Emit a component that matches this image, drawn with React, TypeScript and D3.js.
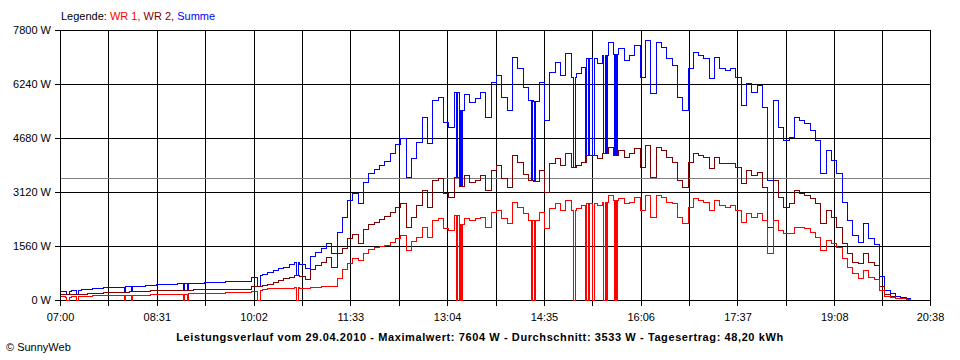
import { useEffect, useRef } from "react"
import * as d3 from "d3"

// 5-minute readings starting 07:00 (W)
const startTime = "07:00"
const stepMinutes = 5

const wr1 = [
  110, 100, 105, 120, 125, 130, 135, 140, 144, 145, 148, 150,
  150, 152, 155, 155, 158, 160, 164, 168, 172, 176, 180, 184,
  188, 192, 196, 200, 205, 210, 215, 221, 225, 230, 235, 240,
  260, 300, 318, 335, 337, 337, 337, 360, 366, 350, 337, 366,
  385, 395, 395, 400, 626, 900, 1078, 1200, 1155, 1350, 1480, 1530,
  1560, 1600, 1685, 1800, 1878, 1444, 1700, 1830, 2118, 1830, 2311, 2359,
  2070, 2022, 2456, 2200, 2359, 2311, 2359, 2400, 2118, 2552, 2600, 2359,
  2215, 2840, 2696, 2500, 2311, 2300, 2552, 2070, 2648, 2792, 2600, 2889,
  2600, 2650, 2744, 2792, 2792, 2744, 2840, 3033, 2900, 2937, 2792, 2840,
  2985, 2600, 3033, 2408, 3033, 2985, 2840, 2792, 2407, 2215, 2700, 2937,
  2889, 2840, 2600, 2889, 2744, 2696, 2744, 2600, 2263, 2504, 2407, 2504,
  2311, 1348, 2311, 2022, 1926, 1926, 2118, 2118, 2070, 1974, 1830, 1444,
  1733, 1637, 1541, 1204, 963, 770, 626, 867, 674, 600, 280, 120,
  80, 60, 45, 35,
]

const wr2 = [
  160, 160, 170, 175, 185, 195, 200, 210, 220, 225, 230, 240,
  245, 250, 255, 262, 270, 278, 288, 290, 292, 295, 298, 300,
  302, 305, 306, 308, 310, 312, 315, 318, 320, 322, 325, 310,
  400, 410, 433, 470, 520, 580, 626, 670, 720, 700, 600, 896,
  1000, 1100, 1250, 960, 1348, 1500, 1800, 1900, 1640, 2050, 2200, 2250,
  2330, 2420, 2552, 2700, 2792, 2118, 2400, 2744, 3178, 2696, 3467, 3515,
  3081, 2985, 3563, 3300, 3600, 3418, 3467, 3600, 3178, 3756, 3900, 3515,
  3274, 4189, 3996, 3650, 3467, 3450, 3756, 3130, 3948, 4093, 3900, 4237,
  3852, 3900, 3996, 4189, 4189, 4093, 4237, 4430, 4200, 4333, 4141, 4250,
  4381, 3852, 4478, 3563, 4430, 4333, 4141, 3996, 3467, 3274, 4000, 4237,
  4200, 4141, 3800, 4141, 3948, 3950, 3950, 3852, 3370, 3756, 3611, 3707,
  3274, 2118, 3467, 2985, 2696, 2792, 3178, 3081, 3033, 2937, 2792, 2215,
  2600, 2407, 2118, 1637, 1348, 1107, 1059, 1348, 1107, 1011, 400, 170,
  115, 70, 50, 20,
]

// minutes where WR 1 dropped to zero
const wr1Dropouts = [
  "07:06", "07:07", "07:15", "07:16", "08:00", "08:07", "08:56", "08:59",
  "10:05", "10:06", "10:07", "10:42", "10:43",
  "13:12", "13:15", "13:17", "14:23", "14:26", "15:02", "15:03",
  "15:14", "15:16", "15:20", "15:21", "15:31", "15:33", "15:41", "15:43",
]

const xTickLabels = ["07:00", "08:31", "10:02", "11:33", "13:04", "14:35", "16:06", "17:37", "19:08", "20:38"]
const yTicks = [0, 1560, 3120, 4680, 6240, 7800]

const dateLabel = "29.04.2010"
const maxValue = 7604
const average = 3533
const dayYield = "48,20"

const FONT = "'Liberation Sans', Arial, sans-serif"

const toMin = (s: string) => {
  const [h, m] = s.split(":").map(Number)
  return h * 60 + m
}

export default function App() {
  const svgRef = useRef<SVGSVGElement>(null)

  useEffect(() => {
    if (!svgRef.current) return
    const W = 960
    const H = 360
    const margin = { top: 30, right: 30, bottom: 60, left: 60 }

    const svg = d3.select(svgRef.current)
    svg.selectAll("*").remove()
    svg.attr("width", W).attr("height", H)

    const labelMins = xTickLabels.map(toMin)
    const x = d3
      .scaleLinear()
      .domain([labelMins[0], labelMins[labelMins.length - 1]])
      .range([margin.left, W - margin.right])
    const y = d3
      .scaleLinear()
      .domain([0, yTicks[yTicks.length - 1]])
      .range([H - margin.bottom, margin.top])

    const px = (v: number) => Math.round(v) + 0.5

    // grid times: labelled ticks plus the one between each pair
    const gridMins: number[] = []
    labelMins.forEach((m, i) => {
      gridMins.push(m)
      if (i < labelMins.length - 1) gridMins.push((m + labelMins[i + 1]) / 2)
    })

    // per-minute series
    const t0 = toMin(startTime)
    const drops = new Set(wr1Dropouts.map(toMin))
    const points = d3.range(wr1.length * stepMinutes).map((k) => {
      const i = Math.floor(k / stepMinutes)
      const t = t0 + k
      const a = drops.has(t) ? 0 : wr1[i]
      const b = wr2[i]
      return { t, a, b, s: a + b }
    })

    const grid = svg.append("g").attr("shape-rendering", "crispEdges")

    // vertical grid + ticks
    grid
      .selectAll("line.v")
      .data(gridMins)
      .join("line")
      .attr("class", "v")
      .attr("x1", (d) => px(x(d)))
      .attr("x2", (d) => px(x(d)))
      .attr("y1", margin.top)
      .attr("y2", H - margin.bottom + 6)
      .attr("stroke", "#000")

    // horizontal grid + ticks
    grid
      .selectAll("line.h")
      .data(yTicks)
      .join("line")
      .attr("class", "h")
      .attr("x1", margin.left - 5)
      .attr("x2", W - margin.right + 1)
      .attr("y1", (d) => px(y(d)))
      .attr("y2", (d) => px(y(d)))
      .attr("stroke", "#000")

    // average line
    grid
      .append("line")
      .attr("x1", margin.left + 1)
      .attr("x2", W - margin.right)
      .attr("y1", px(y(average)))
      .attr("y2", px(y(average)))
      .attr("stroke", "#808080")

    // y labels
    svg
      .selectAll("text.yl")
      .data(yTicks)
      .join("text")
      .attr("class", "yl")
      .attr("x", margin.left - 9)
      .attr("y", (d) => Math.round(y(d)) + 4)
      .attr("text-anchor", "end")
      .style("font-family", FONT)
      .style("font-size", "11px")
      .text((d) => `${d} W`)

    // x labels
    svg
      .selectAll("text.xl")
      .data(xTickLabels)
      .join("text")
      .attr("class", "xl")
      .attr("x", (d) => x(toMin(d)) + 0.5)
      .attr("y", 321)
      .attr("text-anchor", "middle")
      .style("font-family", FONT)
      .style("font-size", "11px")
      .text((d) => d)

    // series
    const series: { key: "a" | "b" | "s"; color: string }[] = [
      { key: "s", color: "#0000ff" },
      { key: "b", color: "#800000" },
      { key: "a", color: "#ff0000" },
    ]
    series.forEach(({ key, color }) => {
      const line = d3
        .line<(typeof points)[number]>()
        .x((d) => px(x(d.t)))
        .y((d) => px(y(d[key])))
        .curve(d3.curveStepAfter)
      svg
        .append("path")
        .datum(points)
        .attr("d", line)
        .attr("fill", "none")
        .attr("stroke", color)
        .attr("stroke-width", 1)
        .attr("shape-rendering", "crispEdges")
    })

    // legend
    const legend = svg
      .append("text")
      .attr("x", margin.left + 1)
      .attr("y", 20)
      .style("font-family", FONT)
      .style("font-size", "11px")
    legend.append("tspan").attr("fill", "#000").text("Legende: ")
    legend.append("tspan").attr("fill", "#ff0000").text("WR 1, ")
    legend.append("tspan").attr("fill", "#800000").text("WR 2, ")
    legend.append("tspan").attr("fill", "#0000ff").text("Summe")

    // title
    svg
      .append("text")
      .attr("x", 480)
      .attr("y", 341)
      .attr("text-anchor", "middle")
      .style("font-family", FONT)
      .style("font-size", "11px")
      .style("font-weight", "bold")
      .style("letter-spacing", "0.6px")
      .text(
        `Leistungsverlauf vom ${dateLabel} - Maximalwert: ${maxValue} W - Durchschnitt: ${average} W - Tagesertrag: ${dayYield} kWh`,
      )

    svg
      .append("text")
      .attr("x", 6)
      .attr("y", 351)
      .style("font-family", FONT)
      .style("font-size", "11px")
      .text("© SunnyWeb")
  }, [])

  return (
    <div style={{ position: "absolute", left: 0, top: 0, width: 960, height: 360, background: "#fff" }}>
      <svg ref={svgRef} style={{ display: "block" }} />
    </div>
  )
}
